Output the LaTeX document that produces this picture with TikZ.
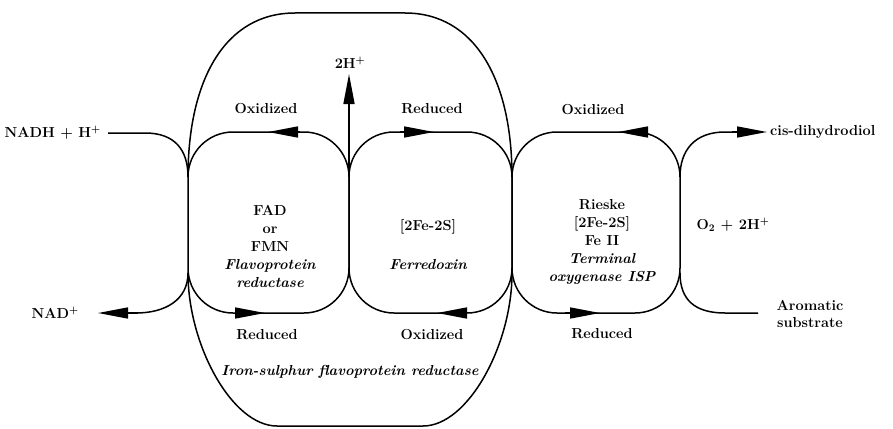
\documentclass[tikz,border=0pt]{standalone}
\usepackage{fontspec}
\usetikzlibrary{arrows.meta}
\begin{document}
\begin{tikzpicture}[x=1pt,y=-1pt,
  line/.style={line width=1.5pt, line join=round},
  tipline/.style={line width=1.5pt, -{Triangle[length=30pt,width=11pt]}},
  lab/.style={font=\fontsize{14.5}{16}\selectfont\bfseries, inner sep=0pt},
  ilab/.style={font=\fontsize{14.5}{16}\selectfont\bfseries\itshape, inner sep=0pt},
  blk/.style={font=\fontsize{14.5}{18}\selectfont\bfseries, inner sep=0pt, align=center}]
\useasboundingbox (0,0) rectangle (893,428);
% junction points
\coordinate (j0u) at (188,177); \coordinate (j0l) at (188,273);
\coordinate (j1u) at (349,177);
\coordinate (j2u) at (512,177); \coordinate (j2l) at (512,273);
\coordinate (j3u) at (680,177); \coordinate (j3l) at (680,273);
% three redox loops
\draw[line, rounded corners=45pt] (188,132) rectangle (349,313);
\draw[line, rounded corners=45pt] (349,132) rectangle (512,313);
\draw[line, rounded corners=45pt] (512,132) rectangle (680,313);
% enclosing loop (iron-sulphur flavoprotein reductase)
\draw[line] (j0u) .. controls (188,80) and (225,13) .. (295,13) -- (405,13)
  .. controls (475,13) and (512,80) .. (j2u);
\draw[line] (j2l) .. controls (512,345) and (468,426) .. (423,426) -- (277,426)
  .. controls (232,426) and (188,345) .. (j0l);
% labels
\node[lab, anchor=east] (nadh) at (101,133) {NADH + H\textsuperscript{+}};
\node[lab, anchor=east] (nad) at (79,313) {NAD\textsuperscript{+}};
\node[lab] (h2) at (350,63) {2H\textsuperscript{+}};
\node[lab] (ox1) at (266,109) {Oxidized};
\node[lab] (re2) at (432,109) {Reduced};
\node[lab] (ox3) at (593,110) {Oxidized};
\node[lab] (re1) at (267,335) {Reduced};
\node[lab] (ox2) at (432,335) {Oxidized};
\node[lab] (re3) at (602,334) {Reduced};
\node[ilab] (isfr) at (350,372) {Iron-sulphur flavoprotein reductase};
\node[blk] (fad) at (270,246) {FAD\\or\\FMN\\\itshape Flavoprotein\\\itshape reductase};
\node[lab] (fes2) at (428,227) {[2Fe-2S]};
\node[ilab] (fd) at (428,265) {Ferredoxin};
\node[blk] (isp) at (602,242) {Rieske\\{}[2Fe-2S]\\Fe II\\\itshape Terminal\\\itshape oxygenase ISP};
\node[lab] (o2) at (733,225) {O\textsubscript{2} + 2H\textsuperscript{+}};
\node[lab, anchor=west] (cis) at (770,132) {cis-dihydrodiol};
\node[lab, align=center, font=\fontsize{14.5}{17}\selectfont\bfseries] (aro) at (810,314) {Aromatic\\substrate};
% inputs / outputs
\draw[line] (108,133) -- (145,133) .. controls (175,133) and (188,150) .. (j0u);
\draw[line] (j0l) .. controls (188,300) and (165,313) .. (136,313);
\draw[tipline] (138,313) -- (98,313);
\draw[tipline] (j1u) -- (349,74);
\draw[line] (j3u) .. controls (680,150) and (695,132) .. (725,132) -- (740,132);
\draw[tipline] (732,132) -- (767,132);
\draw[line] (j3l) .. controls (680,300) and (695,313) .. (725,313) -- (758,313);
% loop arrowheads
\draw[tipline] (300,132) -- (268,132);
\draw[tipline] (400,132) -- (434,132);
\draw[tipline] (634,132) -- (618,132);
\draw[tipline] (236,313) -- (265,313);
\draw[tipline] (466,313) -- (437,313);
\draw[tipline] (565,313) -- (600,313);
\end{tikzpicture}
\end{document}
